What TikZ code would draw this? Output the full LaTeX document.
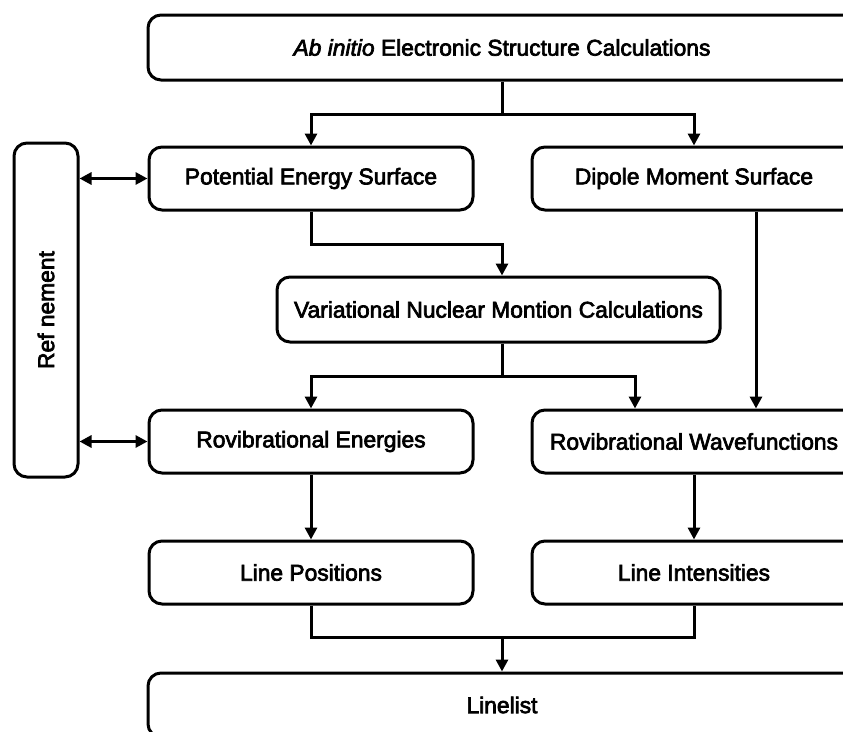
\documentclass[tikz,border=0pt]{standalone}
\usepackage{fontspec}
\usepackage{graphicx}
\setmainfont{Liberation Sans}
\newfontfamily\medfont[FakeBold=3]{Liberation Sans}
\usetikzlibrary{arrows.meta}
\begin{document}
\begin{tikzpicture}[x=1pt,y=-1pt,
  box/.style={draw, line width=3pt, rounded corners=13pt, inner sep=0pt,
    font=\medfont\fontsize{22.8}{27}\selectfont},
  conn/.style={line width=3pt},
  arr/.style={conn, -{Triangle[length=12pt,width=12pt]}},
  darr/.style={conn, {Triangle[length=12pt,width=12pt]}-{Triangle[length=12pt,width=12pt]}}
]
\useasboundingbox (0,0) rectangle (843,731);
\clip (0,0) rectangle (843,731);

\node[box, minimum width=708, minimum height=65] (top) at (502,47.5) {\textit{Ab initio} Electronic Structure Calculations};
\node[box, minimum width=324, minimum height=63] (pes) at (311,178.5) {Potential Energy Surface};
\node[box, minimum width=324, minimum height=63] (dms) at (694,178.5) {Dipole Moment Surface};
\node[box, minimum width=443, minimum height=65] (vnmc) at (498.5,309.5) {Variational Nuclear Montion Calculations};
\node[box, minimum width=324, minimum height=63] (re) at (311,441.5) {Rovibrational Energies};
\node[box, minimum width=324, minimum height=63] (rw) at (694,441.5) {Rovibrational Wavefunctions};
\node[box, minimum width=324, minimum height=63] (lp) at (311,572.5) {Line Positions};
\node[box, minimum width=324, minimum height=63] (li) at (694,572.5) {Line Intensities};
\node[box, minimum width=708, minimum height=64] (ll) at (502,705) {Linelist};
\node[box, minimum width=64, minimum height=334] (ref) at (46,310) {\rotatebox{90}{Ref nement}};

\coordinate (j1) at (502,114);
\coordinate (j2) at (502,244);
\coordinate (j3) at (502,376);
\coordinate (j4) at (502,637);
\coordinate (rwa) at (635,0);
\coordinate (rwb) at (756,0);

\draw[conn] (top.south) -- (j1);
\draw[arr] (j1) -| (pes.north);
\draw[arr] (j1) -| (dms.north);
\draw[arr] (pes.south) |- (j2) -- (vnmc.north -| j2);
\draw[conn] (vnmc.south -| j3) -- (j3);
\draw[arr] (j3) -| (re.north);
\draw[arr] (j3) -| (rw.north -| rwa);
\draw[arr] (dms.south -| rwb) -- (rw.north -| rwb);
\draw[arr] (re.south) -- (lp.north);
\draw[arr] (rw.south) -- (li.north);
\draw[conn] (lp.south) |- (li.south |- j4) -- (li.south);
\draw[arr] (j4) -- (ll.north);
\draw[darr] (ref.east |- pes.west) -- (pes.west);
\draw[darr] (ref.east |- re.west) -- (re.west);
\end{tikzpicture}
\end{document}
